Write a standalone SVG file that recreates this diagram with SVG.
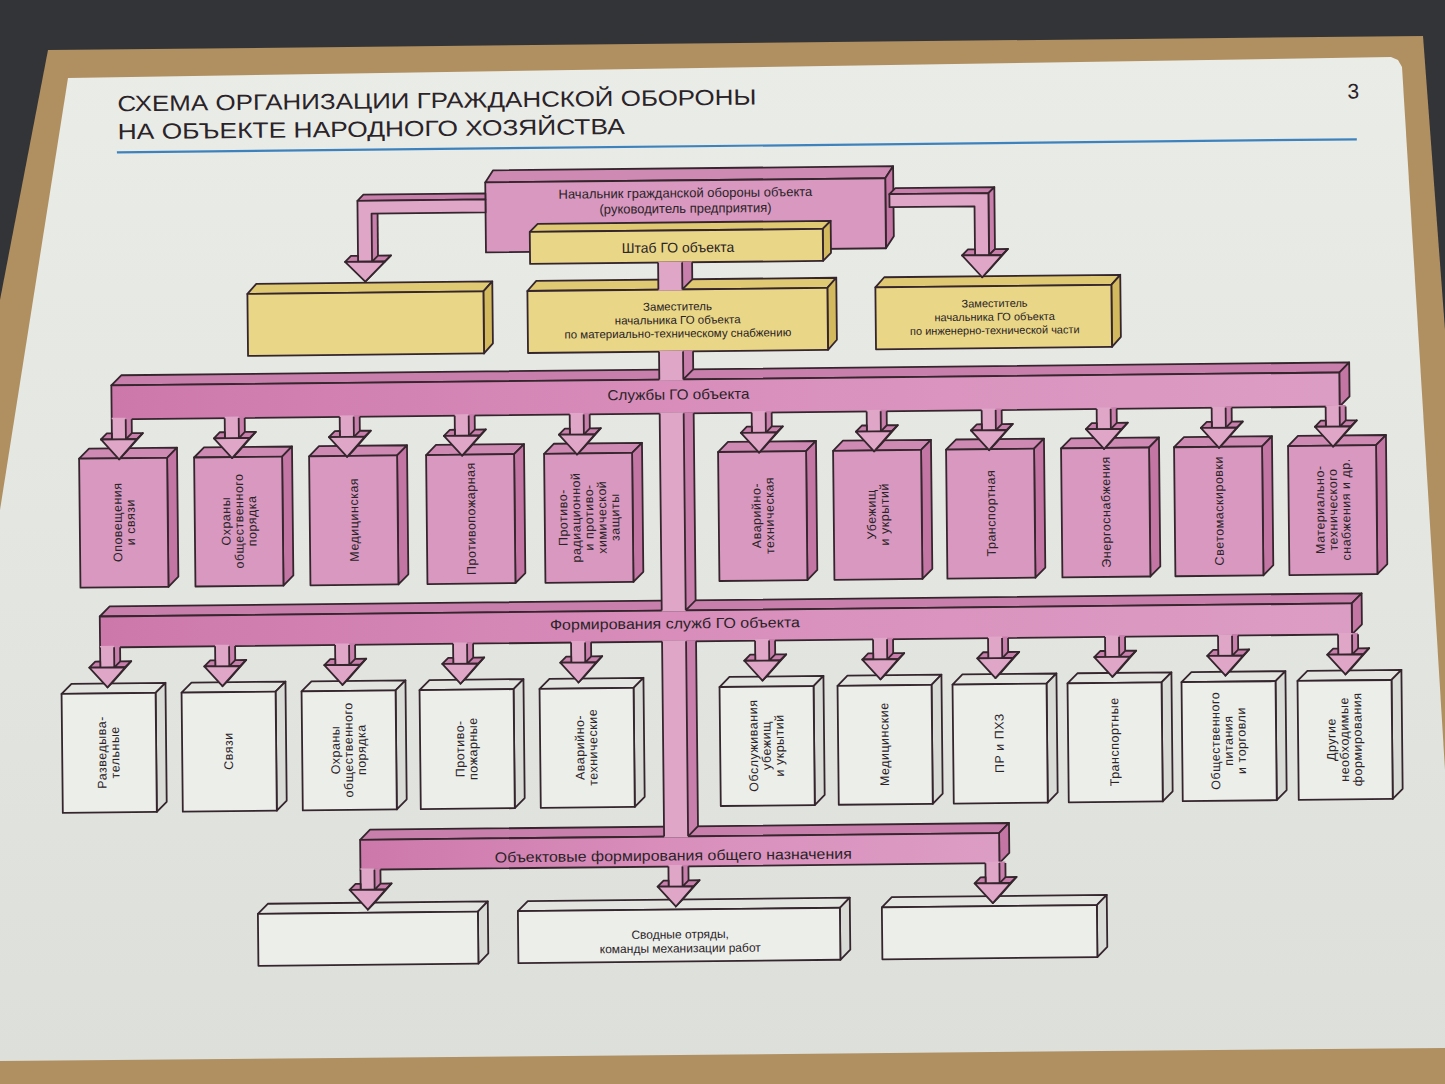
<svg xmlns="http://www.w3.org/2000/svg" width="1445" height="1084" viewBox="0 0 1445 1084">
<style>
.s{stroke:#35252d;stroke-width:1.8;stroke-linejoin:round}
.ln{fill:none;stroke:#35252d;stroke-width:1.8}
.pa{fill:#dfa6c8}.pd{fill:#c97fab}.pb{fill:url(#bandG)}.pf{fill:#d898bf}.ps{fill:#c376a4}.pt{fill:#cf8ab4}
.yf{fill:#e9d686}.yt{fill:#e0c973}.ys{fill:#d3b95d}
.wf{fill:#eceeea}.wt{fill:#e3e5e0}.ws{fill:#d9dcd6}
.t{font-family:"Liberation Sans",Arial,sans-serif;fill:#2a2327}
.vt{font-size:12.5px;letter-spacing:0.5px;text-anchor:middle}
.ht{text-anchor:middle}
.bl{font-size:14.5px;text-anchor:middle}
</style>
<defs>
<linearGradient id="paperG" x1="0" y1="0" x2="0" y2="1"><stop offset="0" stop-color="#eaece8"/><stop offset="1" stop-color="#dcdfda"/></linearGradient>
<linearGradient id="bandG" x1="0" y1="0" x2="1" y2="0"><stop offset="0" stop-color="#cd78ab"/><stop offset="0.5" stop-color="#d98fbc"/><stop offset="1" stop-color="#dc9dc4"/></linearGradient>
<g id="arw">
<polygon class="pd" points="7,-1.5 13,-1.5 13,14 7,20"/>
<rect class="pa" x="-7" y="-1.5" width="14" height="21.5"/>
<path class="ln" d="M-7,0V20M7,0V20M13,0V14"/>
<polygon class="pd s" points="-18,20 -12,14 -7,14 -7,20"/>
<polygon class="pd s" points="7,20 13,14 24,14 18,20"/>
<polygon class="pd s" points="18,20 24,14 6,34 0,40"/>
<polygon class="pa s" points="-18,20 18,20 0,40"/>
</g>
<g id="sb">
<polygon class="pt s" points="0,0 10,-10 98,-10 88,0"/>
<polygon class="ps s" points="88,0 98,-10 98,119 88,129"/>
<rect class="pf s" x="0" y="0" width="88" height="129"/>
</g>
<g id="fb">
<polygon class="wt s" points="0,0 10,-10 104,-10 94,0"/>
<polygon class="ws s" points="94,0 104,-10 104,109 94,119"/>
<rect class="wf s" x="0" y="0" width="94" height="119"/>
</g>
</defs>
<rect width="1445" height="1084" fill="#333438"/>
<polygon points="48,50 1423,36 1445,330 1445,1084 0,1084 0,300" fill="#b08f60"/>
<polygon points="68,78 1391,57 1398,60 1402,67 1445,770 1445,1048 0,1061 0,510" fill="url(#paperG)"/>
<g id="poster" transform="rotate(-0.6 720 540)">
<g id="title">
<text class="t" x="122" y="105" font-size="22" textLength="639" lengthAdjust="spacingAndGlyphs">СХЕМА ОРГАНИЗАЦИИ ГРАЖДАНСКОЙ  ОБОРОНЫ</text>
<text class="t" x="122" y="133" font-size="22" textLength="507" lengthAdjust="spacingAndGlyphs">НА ОБЪЕКТЕ  НАРОДНОГО ХОЗЯЙСТВА</text>
<text class="t" x="1352" y="105" font-size="21">3</text>
<line x1="121" y1="146" x2="1361" y2="146" stroke="#3d82bd" stroke-width="2.2"/>
</g>
<g id="n-nachalnik">
<polygon class="pt s" points="489,180 497,168 897,168 889,180"/>
<polygon class="ps s" points="889,180 897,168 897,238 889,250"/>
<rect class="pf s" x="489" y="180" width="400" height="70"/>
<text class="t ht" x="689" y="197" font-size="13">Начальник гражданской обороны объекта</text>
<text class="t ht" x="689" y="212.5" font-size="13">(руководитель предприятия)</text>
</g>
<g id="n-shtab">
<polygon class="yt s" points="533,230 541,222 834,222 826,230"/>
<polygon class="ys s" points="826,230 834,222 834,254 826,262"/>
<rect class="yf s" x="533" y="230" width="293" height="32"/>
<text class="t ht" x="681" y="252" font-size="14">Штаб ГО объекта</text>
</g>
<g id="n-zam-left">
<polygon class="yt s" points="250,289 259,279 495,279 486,289"/>
<polygon class="ys s" points="486,289 495,279 495,341 486,351"/>
<rect class="yf s" x="250" y="289" width="236" height="62"/>
</g>
<g id="n-zam-mts">
<polygon class="yt s" points="530,289 539,279 839,279 830,289"/>
<polygon class="ys s" points="830,289 839,279 839,341 830,351"/>
<rect class="yf s" x="530" y="289" width="300" height="62"/>
<text class="t ht" font-size="11.5"><tspan x="680" y="310">Заместитель</tspan><tspan x="680" y="323.5">начальника ГО объекта</tspan><tspan x="680" y="337">по материально-техническому снабжению</tspan></text>
</g>
<g id="n-zam-it">
<polygon class="yt s" points="878,289 887,279 1123,279 1114,289"/>
<polygon class="ys s" points="1114,289 1123,279 1123,341 1114,351"/>
<rect class="yf s" x="878" y="289" width="236" height="62"/>
<text class="t ht" font-size="11"><tspan x="997" y="310">Заместитель</tspan><tspan x="997" y="323.5">начальника ГО объекта</tspan><tspan x="997" y="337">по инженерно-технической части</tspan></text>
</g>
<g id="s1"><use href="#sb" x="80" y="452"/><text class="t vt" transform="translate(124,516) rotate(-90)"><tspan x="0" y="-2">Оповещения</tspan><tspan x="0" y="11">и связи</tspan></text></g>
<g id="s2"><use href="#sb" x="195" y="452"/><text class="t vt" transform="translate(239,516) rotate(-90)"><tspan x="0" y="-8.5">Охраны</tspan><tspan x="0" y="4.5">общественного</tspan><tspan x="0" y="17.5">порядка</tspan></text></g>
<g id="s3"><use href="#sb" x="310" y="452"/><text class="t vt" transform="translate(354,516) rotate(-90)"><tspan x="0" y="4.5">Медицинская</tspan></text></g>
<g id="s4"><use href="#sb" x="427" y="452"/><text class="t vt" transform="translate(471,516) rotate(-90)"><tspan x="0" y="4.5">Противопожарная</tspan></text></g>
<g id="s5"><use href="#sb" x="545" y="452"/><text class="t vt" transform="translate(589,516) rotate(-90)"><tspan x="0" y="-21.5">Противо-</tspan><tspan x="0" y="-8.5">радиационной</tspan><tspan x="0" y="4.5">и противо-</tspan><tspan x="0" y="17.5">химической</tspan><tspan x="0" y="30.5">защиты</tspan></text></g>
<g id="s6"><use href="#sb" x="719" y="452"/><text class="t vt" transform="translate(763,516) rotate(-90)"><tspan x="0" y="-2">Аварийно-</tspan><tspan x="0" y="11">техническая</tspan></text></g>
<g id="s7"><use href="#sb" x="834" y="452"/><text class="t vt" transform="translate(878,516) rotate(-90)"><tspan x="0" y="-2">Убежищ</tspan><tspan x="0" y="11">и укрытий</tspan></text></g>
<g id="s8"><use href="#sb" x="947" y="452"/><text class="t vt" transform="translate(991,516) rotate(-90)"><tspan x="0" y="4.5">Транспортная</tspan></text></g>
<g id="s9"><use href="#sb" x="1062" y="452"/><text class="t vt" transform="translate(1106,516) rotate(-90)"><tspan x="0" y="4.5">Энергоснабжения</tspan></text></g>
<g id="s10"><use href="#sb" x="1175" y="452"/><text class="t vt" transform="translate(1219,516) rotate(-90)"><tspan x="0" y="4.5">Светомаскировки</tspan></text></g>
<g id="s11"><use href="#sb" x="1289" y="452"/><text class="t vt" transform="translate(1333,516) rotate(-90)"><tspan x="0" y="-8.5">Материально-</tspan><tspan x="0" y="4.5">технического</tspan><tspan x="0" y="17.5">снабжения и др.</tspan></text></g>
<g id="f1"><use href="#fb" x="60" y="687"/><text class="t vt" transform="translate(106,746) rotate(-90)"><tspan x="0" y="-2">Разведыва-</tspan><tspan x="0" y="11">тельные</tspan></text></g>
<g id="f2"><use href="#fb" x="180" y="687"/><text class="t vt" transform="translate(226,746) rotate(-90)"><tspan x="0" y="4.5">Связи</tspan></text></g>
<g id="f3"><use href="#fb" x="300" y="687"/><text class="t vt" transform="translate(346,746) rotate(-90)"><tspan x="0" y="-8.5">Охраны</tspan><tspan x="0" y="4.5">общественного</tspan><tspan x="0" y="17.5">порядка</tspan></text></g>
<g id="f4"><use href="#fb" x="418" y="687"/><text class="t vt" transform="translate(464,746) rotate(-90)"><tspan x="0" y="-2">Противо-</tspan><tspan x="0" y="11">пожарные</tspan></text></g>
<g id="f5"><use href="#fb" x="538" y="687"/><text class="t vt" transform="translate(584,746) rotate(-90)"><tspan x="0" y="-2">Аварийно-</tspan><tspan x="0" y="11">технические</tspan></text></g>
<g id="f6"><use href="#fb" x="718" y="687"/><text class="t vt" transform="translate(764,746) rotate(-90)"><tspan x="0" y="-8.5">Обслуживания</tspan><tspan x="0" y="4.5">убежищ</tspan><tspan x="0" y="17.5">и укрытий</tspan></text></g>
<g id="f7"><use href="#fb" x="836" y="687"/><text class="t vt" transform="translate(882,746) rotate(-90)"><tspan x="0" y="4.5">Медицинские</tspan></text></g>
<g id="f8"><use href="#fb" x="951" y="687"/><text class="t vt" transform="translate(997,746) rotate(-90)"><tspan x="0" y="4.5">ПР и ПХЗ</tspan></text></g>
<g id="f9"><use href="#fb" x="1066" y="687"/><text class="t vt" transform="translate(1112,746) rotate(-90)"><tspan x="0" y="4.5">Транспортные</tspan></text></g>
<g id="f10"><use href="#fb" x="1180" y="687"/><text class="t vt" transform="translate(1226,746) rotate(-90)"><tspan x="0" y="-8.5">Общественного</tspan><tspan x="0" y="4.5">питания</tspan><tspan x="0" y="17.5">и торговли</tspan></text></g>
<g id="f11"><use href="#fb" x="1296" y="687"/><text class="t vt" transform="translate(1342,746) rotate(-90)"><tspan x="0" y="-8.5">Другие</tspan><tspan x="0" y="4.5">необходимые</tspan><tspan x="0" y="17.5">формирования</tspan></text></g>
<g id="b1">
<polygon class="wt s" points="254,909 264,899 484,899 474,909"/>
<polygon class="ws s" points="474,909 484,899 484,951 474,961"/>
<rect class="wf s" x="254" y="909" width="220" height="52"/>
</g>
<g id="b2">
<polygon class="wt s" points="514,909 524,899 846,899 836,909"/>
<polygon class="ws s" points="836,909 846,899 846,951 836,961"/>
<rect class="wf s" x="514" y="909" width="322" height="52"/>
<text class="t ht" font-size="12"><tspan x="676" y="938">Сводные отряды,</tspan><tspan x="676" y="952">команды механизации работ</tspan></text>
</g>
<g id="b3">
<polygon class="wt s" points="878,909 888,899 1103,899 1093,909"/>
<polygon class="ws s" points="1093,909 1103,899 1103,951 1093,961"/>
<rect class="wf s" x="878" y="909" width="215" height="52"/>
</g>
<g id="connectors">
<g id="c-left">
<polygon class="pd s" points="361,197 367,191 489,191 489,197"/>
<polygon class="pd" points="375,210 381,210 381,252 375,258"/>
<polygon class="pa s" points="361,197 489,197 489,210 375,210 375,258 361,258"/>
<path class="ln" d="M381,210V252"/>
<polygon class="pd s" points="348,258 354,252 361,252 361,258"/>
<polygon class="pd s" points="375,258 381,252 394,252 388,258"/>
<polygon class="pd s" points="388,258 394,252 374,272 368,278"/>
<polygon class="pa s" points="348,258 388,258 368,278"/>
</g>
<g id="c-right">
<polygon class="pd s" points="893,196 899,190 998,190 992,196"/>
<polygon class="pd s" points="992,196 998,190 998,252 992,258"/>
<polygon class="pa s" points="893,196 992,196 992,258 978,258 978,209 893,209"/>
<polygon class="pd s" points="965,258 971,252 978,252 978,258"/>
<polygon class="pd s" points="992,258 998,252 1011,252 1005,258"/>
<polygon class="pd s" points="1005,258 1011,252 991,274 985,280"/>
<polygon class="pa s" points="965,258 1005,258 985,280"/>
</g>
<g id="band-services">
<polygon class="pd s" points="113,379 123,369 1351,369 1341,379"/>
<polygon class="ps s" points="1341,379 1351,369 1351,403 1341,413"/>
<rect class="pb s" x="113" y="379" width="1228" height="34"/>
<use href="#arw" x="120" y="413"/><use href="#arw" x="233" y="413"/><use href="#arw" x="348" y="413"/><use href="#arw" x="463" y="413"/><use href="#arw" x="578" y="413"/>
<use href="#arw" x="760" y="413"/><use href="#arw" x="875" y="413"/><use href="#arw" x="990" y="413"/><use href="#arw" x="1105" y="413"/><use href="#arw" x="1220" y="413"/><use href="#arw" x="1334" y="413"/>
</g>
<g id="band-formations">
<polygon class="pd s" points="99,610 109,600 1361,600 1351,610"/>
<polygon class="ps s" points="1351,610 1361,600 1361,631 1351,641"/>
<rect class="pb s" x="99" y="610" width="1252" height="31"/>
<use href="#arw" x="106" y="641"/><use href="#arw" x="221" y="641"/><use href="#arw" x="341" y="641"/><use href="#arw" x="459" y="641"/><use href="#arw" x="577" y="641"/>
<use href="#arw" x="761" y="641"/><use href="#arw" x="879" y="641"/><use href="#arw" x="994" y="641"/><use href="#arw" x="1111" y="641"/><use href="#arw" x="1224" y="641"/><use href="#arw" x="1344" y="641"/>
</g>
<g id="band-common">
<polygon class="pd s" points="357,836 367,826 1006,826 996,836"/>
<polygon class="ps s" points="996,836 1006,826 1006,856 996,866"/>
<rect class="pb s" x="357" y="836" width="639" height="30"/>
<use href="#arw" x="364" y="866"/><use href="#arw" x="672" y="866"/><use href="#arw" x="989" y="866"/>
</g>
<g id="trunk">
<rect class="pa" x="661" y="261" width="24" height="29"/>
<polygon class="pd" points="685,261 695,261 695,279 685,289"/>
<path class="ln" d="M661,262V289M685,262V289M695,262V279L685,289"/>
<rect class="pa" x="661" y="350" width="24" height="30"/>
<polygon class="pd" points="685,350 695,350 695,369 685,379"/>
<path class="ln" d="M661,351V379M685,351V379M695,351V369L685,379"/>
<rect class="pa" x="661" y="412" width="24" height="199"/>
<polygon class="pd" points="685,412 695,412 695,600 685,610"/>
<path class="ln" d="M661,413V610M685,413V610M695,413V600L685,610"/>
<rect class="pa" x="661" y="640" width="24" height="197"/>
<polygon class="pd" points="685,640 695,640 695,826 685,836"/>
<path class="ln" d="M661,641V836M685,641V836M695,641V826L685,836"/>
</g>
<text class="t bl" x="680" y="399" textLength="142" lengthAdjust="spacingAndGlyphs">Службы ГО объекта</text>
<text class="t bl" x="674" y="628" textLength="250" lengthAdjust="spacingAndGlyphs">Формирования служб ГО объекта</text>
<text class="t bl" x="670" y="860" textLength="357" lengthAdjust="spacingAndGlyphs">Объектовые формирования общего назначения</text>
</g>
</g>
</svg>
